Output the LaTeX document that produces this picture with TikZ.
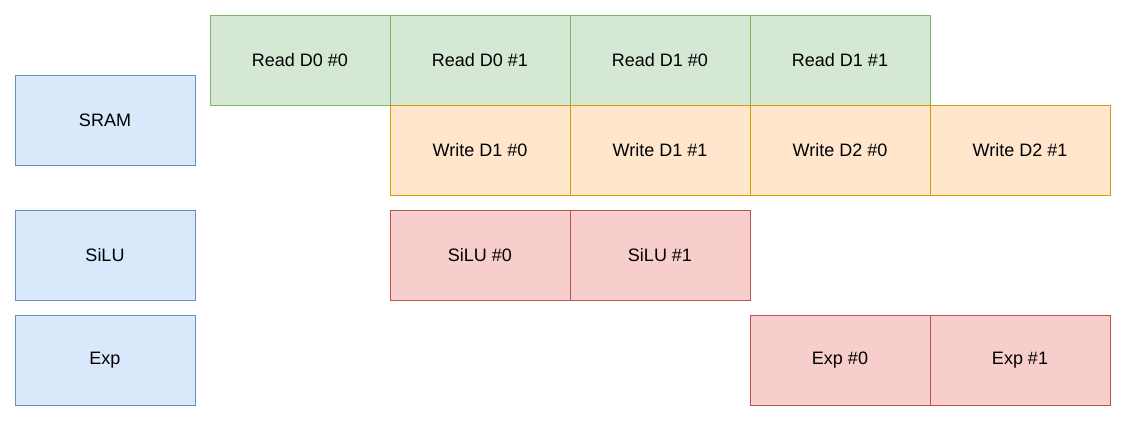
\documentclass[tikz,border=0pt]{standalone}
\usepackage{fontspec}
\setmainfont{Liberation Sans}
\usepackage{xcolor}
\usepackage{tikz}
\usetikzlibrary{positioning}
\definecolor{unitfill}{HTML}{DAE8FC}
\definecolor{unitline}{HTML}{6C8EBF}
\definecolor{readfill}{HTML}{D5E8D4}
\definecolor{readline}{HTML}{82B366}
\definecolor{writefill}{HTML}{FFE6CC}
\definecolor{writeline}{HTML}{D79B00}
\definecolor{opfill}{HTML}{F8CECC}
\definecolor{opline}{HTML}{B85450}

\begin{document}
\begin{tikzpicture}[
    x=0.75pt, y=-0.75pt,
    every node/.style={font=\fontsize{13.5}{16}\selectfont, align=center},
    slot/.style={rectangle, minimum width=135pt, minimum height=67.5pt, outer sep=0pt, line width=0.75pt},
    unitbox/.style={slot, draw=unitline, fill=unitfill},
    readbox/.style={slot, draw=readline, fill=readfill},
    writebox/.style={slot, draw=writeline, fill=writefill},
    opbox/.style={slot, draw=opline, fill=opfill}
]
\useasboundingbox (0,0) rectangle (1127,422);

% hardware units
\node[unitbox] (sram) at (105,120) {SRAM};
\node[unitbox] (silu) at (105,255) {SiLU};
\node[unitbox] (exp) at (105,360) {Exp};

% SRAM reads
\node[readbox] (rd00) at (300,60) {Read D0 \#0};
\node[readbox, right=0pt of rd00] (rd01) {Read D0 \#1};
\node[readbox, right=0pt of rd01] (rd10) {Read D1 \#0};
\node[readbox, right=0pt of rd10] (rd11) {Read D1 \#1};

% SRAM writes
\node[writebox, below=0pt of rd01] (wr10) {Write D1 \#0};
\node[writebox, right=0pt of wr10] (wr11) {Write D1 \#1};
\node[writebox, right=0pt of wr11] (wr20) {Write D2 \#0};
\node[writebox, right=0pt of wr20] (wr21) {Write D2 \#1};

% SiLU and Exp
\node[opbox] (silu0) at (480,255) {SiLU \#0};
\node[opbox, right=0pt of silu0] (silu1) {SiLU \#1};
\node[opbox] (exp0) at (840,360) {Exp \#0};
\node[opbox, right=0pt of exp0] (exp1) {Exp \#1};

\end{tikzpicture}
\end{document}
